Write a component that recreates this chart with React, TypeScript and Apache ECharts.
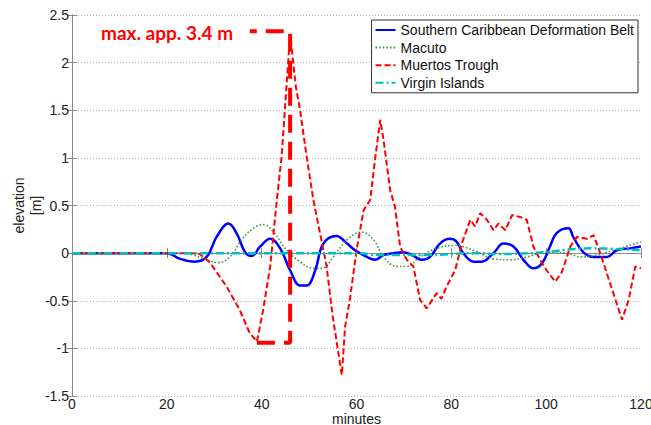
import React, { useEffect, useRef } from "react";
import * as echarts from "echarts";

const FONT = "'Liberation Sans', Arial, sans-serif";

const seriesNames = [
  "Southern Caribbean Deformation Belt",
  "Macuto",
  "Muertos Trough",
  "Virgin Islands",
];

const scdb: [number, number][] = [
  [0, 0], [20, 0], [22.8, -0.06], [25.9, -0.09], [28.4, -0.04], [30.5, 0.17], [33, 0.31],
  [34.7, 0.21], [36.5, 0.01], [37.9, -0.03], [39.7, 0.07], [41.8, 0.15], [43.9, 0.05],
  [46, -0.18], [48.1, -0.34], [49.5, -0.34], [51.3, -0.18], [53, 0.1], [55.8, 0.18],
  [58, 0.1], [59.7, 0.03], [62.2, -0.04], [63.9, -0.07], [65.7, -0.02], [67.8, 0],
  [69.9, 0.01], [71.7, -0.02], [73.8, -0.07], [75.5, -0.04], [77.6, 0.1], [79.7, 0.15],
  [81.1, 0.12], [82.5, 0], [84.7, -0.09], [86.4, -0.09], [88.9, 0], [91, 0.1], [93.1, 0.07],
  [95.2, -0.07], [97.3, -0.16], [99.1, -0.11], [100.8, 0.07], [102.2, 0.21], [104.7, 0.26],
  [105.7, 0.17], [107.8, 0.01], [110, -0.04], [112.8, -0.04], [114.9, 0.03], [117.7, 0.05],
  [120, 0.07],
];

const macuto: [number, number][] = [
  [0, 0], [23, 0], [25.6, -0.02], [28.4, -0.07], [30.9, -0.1], [33.3, -0.04], [35.8, 0.14],
  [38.2, 0.26], [40.4, 0.3], [42.5, 0.22], [45.3, 0.03], [48.1, -0.09], [50.9, -0.16],
  [52.7, -0.16], [55.1, -0.04], [58, 0.14], [61.1, 0.22], [63.6, 0.14], [65.7, -0.04],
  [68.5, -0.14], [70.6, -0.14], [73.4, -0.04], [76.9, 0.05], [80.8, 0.08], [84.7, 0.03],
  [88.9, -0.06], [92.4, -0.07], [95.9, -0.04], [100.1, 0.01], [104.4, 0], [107.2, -0.04],
  [110.7, -0.02], [114.2, 0.03], [120, 0.12],
];

const muertos: [number, number][] = [
  [0, 0], [25, 0], [27, -0.01], [29.1, -0.1], [32.6, -0.35], [35.4, -0.6], [37.5, -0.84],
  [39, -0.93], [40.3, -0.6], [41.8, -0.14], [43.2, 0.56], [44.2, 1.01], [46, 2.3],
  [47.2, 1.75], [48.1, 1.5], [49.5, 1.01], [50.9, 0.56], [53.7, -0.14], [55, -0.67],
  [56.9, -1.28], [57.6, -0.77], [58.6, -0.49], [60, 0.03], [61.5, 0.45], [62.9, 0.56],
  [63.9, 0.98], [65, 1.4], [65.7, 1.19], [67.1, 0.66], [68.1, 0.49], [69.2, 0.07],
  [70.6, -0.07], [72, -0.14], [73.4, -0.49], [74.8, -0.58], [76.9, -0.42], [77.9, -0.48],
  [79, -0.35], [80.8, -0.18], [82.2, 0.1], [84, 0.35], [85, 0.28], [86.1, 0.42],
  [87.5, 0.35], [88.9, 0.24], [89.9, 0.31], [91.4, 0.24], [92.8, 0.4], [94.5, 0.38],
  [95.9, 0.35], [97.3, 0.07], [98.7, -0.07], [100.1, -0.18], [101.9, -0.3], [103.3, -0.2],
  [105.1, 0.07], [106.5, 0.17], [108.6, 0.15], [110, 0.19], [111.4, 0], [113.5, -0.32],
  [116, -0.7], [117.4, -0.49], [118.8, -0.14], [120, -0.16],
];

const virgin: [number, number][] = [
  [0, 0], [60, 0], [65, -0.02], [75, -0.02], [85, 0], [90, -0.01], [100, 0.01],
  [105, 0.04], [110, 0.05], [120, 0.03],
];

const bracket: [number, number][] = [
  [39, -0.94], [46, -0.94], [46, 2.33], [37.5, 2.33],
];

const annotationText = "max. app. 3.4 m";

export default function App() {
  const ref = useRef<HTMLDivElement>(null);
  useEffect(() => {
    document.body.style.margin = "0";
    if (!ref.current) return;
    const chart = echarts.init(ref.current, null, { renderer: "svg" });
    const axisColor = "#8a8a8a";
    const lineOpt = (color: string, width: number, type: any) => ({
      color,
      width,
      type,
    });
    chart.setOption({
      animation: false,
      backgroundColor: "#fff",
      grid: {
        left: 72,
        right: 10,
        top: 15,
        bottom: 29,
        containLabel: false,
        outerBoundsMode: "none",
      },
      legend: {
        data: seriesNames,
        orient: "vertical",
        right: 13,
        top: 20,
        itemWidth: 20,
        itemHeight: 14,
        itemGap: 3.6,
        padding: [3, 4, 3, 3],
        borderColor: "#333",
        borderWidth: 1,
        borderRadius: 0,
        backgroundColor: "#fff",
        itemStyle: { opacity: 0 },
        textStyle: { fontSize: 14, color: "#111", fontFamily: FONT },
      },
      xAxis: [
        {
          type: "value",
          min: 0,
          max: 120,
          interval: 20,
          position: "bottom",
          axisLine: { show: true, lineStyle: { color: axisColor } },
          axisTick: { show: true, inside: true, length: 5, lineStyle: { color: axisColor } },
          axisLabel: { color: "#222", fontSize: 14, lineHeight: 14, margin: 1, fontFamily: FONT },
          splitLine: { show: false },
          name: "minutes",
          nameLocation: "middle",
          nameGap: 17,
          nameMoveOverlap: false,
          nameTextStyle: { color: "#222", fontSize: 14, lineHeight: 12, fontFamily: FONT },
        },
        {
          type: "value",
          min: 0,
          max: 120,
          interval: 20,
          position: "top",
          axisLine: { show: true, lineStyle: { color: axisColor } },
          axisTick: { show: true, inside: true, length: 5, lineStyle: { color: axisColor } },
          axisLabel: { show: false },
          splitLine: { show: false },
        },
      ],
      yAxis: [
        {
          type: "value",
          min: -1.5,
          max: 2.5,
          interval: 0.5,
          position: "left",
          axisLine: { show: true, lineStyle: { color: axisColor } },
          axisTick: { show: true, inside: true, length: 5, lineStyle: { color: axisColor } },
          axisLabel: { color: "#222", fontSize: 14, margin: 3, fontFamily: FONT },
          splitLine: { show: true, lineStyle: { color: "#b0b0b0", type: [1, 2], width: 1 } },
          name: "elevation\n[m]",
          nameLocation: "middle",
          nameRotate: 90,
          nameGap: 28,
          nameMoveOverlap: false,
          nameTextStyle: { color: "#222", fontSize: 14, lineHeight: 17, fontFamily: FONT },
        },
        {
          type: "value",
          min: -1.5,
          max: 2.5,
          interval: 0.5,
          position: "right",
          axisLine: { show: true, lineStyle: { color: axisColor } },
          axisTick: { show: true, inside: true, length: 5, lineStyle: { color: axisColor } },
          axisLabel: { show: false },
          splitLine: { show: false },
        },
      ],
      series: [
        {
          name: seriesNames[0],
          type: "line",
          data: scdb,
          smooth: 0.4,
          symbol: "none",
          showSymbol: false,
          lineStyle: lineOpt("#0000ff", 2.5, "solid"),
          itemStyle: { color: "#0000ff" },
          z: 2,
        },
        {
          name: seriesNames[1],
          type: "line",
          data: macuto,
          smooth: 0.4,
          symbol: "none",
          showSymbol: false,
          lineStyle: lineOpt("#3a9e3a", 1.6, [1.6, 2]),
          itemStyle: { color: "#3a9e3a" },
          z: 3,
        },
        {
          name: seriesNames[2],
          type: "line",
          data: muertos,
          smooth: false,
          symbol: "none",
          showSymbol: false,
          lineStyle: lineOpt("#ff0000", 2, [6, 3]),
          itemStyle: { color: "#ff0000" },
          z: 4,
        },
        {
          name: seriesNames[3],
          type: "line",
          data: virgin,
          smooth: 0.4,
          symbol: "none",
          showSymbol: false,
          lineStyle: lineOpt("#00bfbf", 2.5, [8, 3, 2, 3]),
          itemStyle: { color: "#00bfbf" },
          z: 5,
        },
        {
          name: "annotation",
          type: "line",
          data: bracket,
          symbol: "none",
          showSymbol: false,
          lineStyle: lineOpt("#ff0000", 4, [18, 9]),
          itemStyle: { color: "#ff0000" },
          z: 6,
          silent: true,
        },
      ],
      graphic: [
        {
          type: "text",
          x: 101,
          y: 32,
          z: 10,
          style: {
            text: annotationText,
            fill: "#ff0000",
            fontSize: 19,
            fontWeight: "bold",
            fontFamily: "Lato, 'Liberation Sans', sans-serif",
            align: "left",
            verticalAlign: "middle",
          },
        },
      ],
    });
    return () => chart.dispose();
  }, []);
  return <div ref={ref} style={{ width: 651, height: 425 }} />;
}
